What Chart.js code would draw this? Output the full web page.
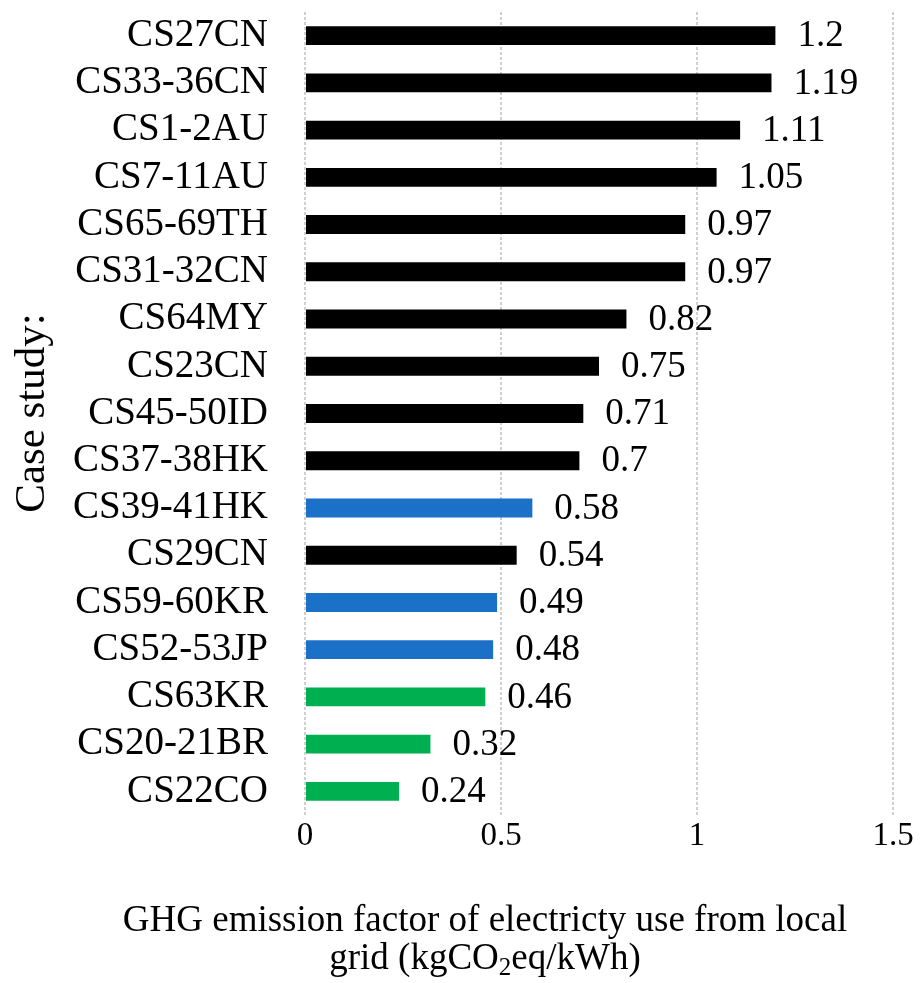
<!DOCTYPE html>
<html lang="en">
<head>
<meta charset="UTF-8">
<title>GHG emission factor by case study</title>
<script src="https://cdn.jsdelivr.net/npm/chart.js"></script>
<style>
  body { margin: 0; background: #fff; }
  canvas { display: block; }
</style>
</head>
<body>
<canvas id="chart" width="922" height="983"></canvas>
<script>
// data
var caseStudies = ['CS27CN', 'CS33-36CN', 'CS1-2AU', 'CS7-11AU', 'CS65-69TH', 'CS31-32CN', 'CS64MY',
  'CS23CN', 'CS45-50ID', 'CS37-38HK', 'CS39-41HK', 'CS29CN', 'CS59-60KR', 'CS52-53JP',
  'CS63KR', 'CS20-21BR', 'CS22CO'];
var emissionFactors = [1.2, 1.19, 1.11, 1.05, 0.97, 0.97, 0.82, 0.75, 0.71, 0.7, 0.58, 0.54, 0.49, 0.48, 0.46, 0.32, 0.24];
var barGroups = ['black', 'black', 'black', 'black', 'black', 'black', 'black', 'black', 'black', 'black',
  'blue', 'black', 'blue', 'blue', 'green', 'green', 'green'];
var xTicks = [0, 0.5, 1, 1.5];

var groupColors = { black: '#000000', blue: '#1b70c8', green: '#00b050' };
var serif = "'Liberation Serif', 'Times New Roman', serif";
Chart.defaults.font.family = serif;
Chart.defaults.color = '#000';

// value labels at the end of each bar
var valueLabels = {
  id: 'valueLabels',
  afterDatasetsDraw: function (chart) {
    var ctx = chart.ctx;
    var meta = chart.getDatasetMeta(0);
    ctx.save();
    ctx.font = '37px ' + serif;
    ctx.fillStyle = '#000';
    ctx.textAlign = 'left';
    ctx.textBaseline = 'middle';
    meta.data.forEach(function (bar, i) {
      ctx.fillText(String(emissionFactors[i]), bar.x + 22, bar.y + 1);
    });
    ctx.restore();
  }
};

// axis titles (x title has a subscript)
var axisTitles = {
  id: 'axisTitles',
  afterDraw: function (chart) {
    var ctx = chart.ctx;
    ctx.save();
    ctx.fillStyle = '#000';
    ctx.textBaseline = 'middle';

    ctx.font = '43px ' + serif;
    ctx.translate(33, 413);
    ctx.rotate(-Math.PI / 2);
    ctx.textAlign = 'center';
    ctx.fillText('Case study:', 0, 0);
    ctx.setTransform(1, 0, 0, 1, 0, 0);

    var cx = 485;
    ctx.font = '37px ' + serif;
    ctx.textAlign = 'center';
    ctx.fillText('GHG emission factor of electricty use from local', cx, 921);

    var partA = 'grid (kgCO', sub = '2', partB = 'eq/kWh)';
    var big = '37px ' + serif, small = '25px ' + serif;
    ctx.font = big;
    var wA = ctx.measureText(partA).width, wB = ctx.measureText(partB).width;
    ctx.font = small;
    var wS = ctx.measureText(sub).width;
    var x = cx - (wA + wS + wB) / 2;
    ctx.textAlign = 'left';
    ctx.font = big;
    ctx.fillText(partA, x, 959);
    ctx.font = small;
    ctx.fillText(sub, x + wA, 968);
    ctx.font = big;
    ctx.fillText(partB, x + wA + wS, 959);
    ctx.restore();
  }
};

new Chart(document.getElementById('chart'), {
  type: 'bar',
  data: {
    labels: caseStudies,
    datasets: [{
      data: emissionFactors,
      backgroundColor: barGroups.map(function (g) { return groupColors[g]; }),
      barPercentage: 0.8,
      categoryPercentage: 0.5
    }]
  },
  options: {
    indexAxis: 'y',
    responsive: false,
    animation: false,
    layout: { padding: { top: 12, right: 29, bottom: 0, left: 0 } },
    plugins: {
      legend: { display: false },
      tooltip: { enabled: false }
    },
    scales: {
      x: {
        min: 0,
        max: 1.5,
        afterBuildTicks: function (axis) {
          axis.ticks = xTicks.map(function (v) { return { value: v }; });
        },
        afterFit: function (axis) {
          axis.height = 168;
          axis.paddingLeft = 0;
          axis.paddingRight = 0;
        },
        grid: { color: '#cfcfcf', lineWidth: 2, drawTicks: false },
        border: { display: false, dash: [3, 2] },
        ticks: {
          font: { size: 33 },
          padding: 2,
          maxRotation: 0,
          callback: function (v) { return String(v); }
        }
      },
      y: {
        afterFit: function (axis) {
          axis.width = 305;
          axis.paddingTop = 0;
          axis.paddingBottom = 0;
        },
        grid: { display: false, drawTicks: false },
        border: { display: false },
        ticks: { font: { size: 39 }, padding: 37, autoSkip: false }
      }
    }
  },
  plugins: [valueLabels, axisTitles]
});
</script>
</body>
</html>
